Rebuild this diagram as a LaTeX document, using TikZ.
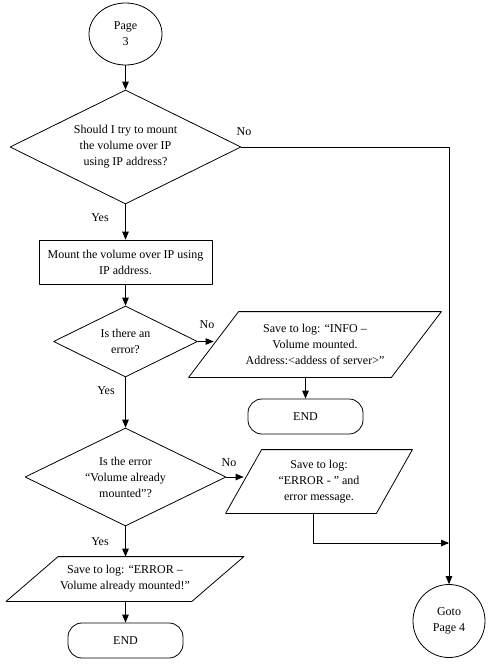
\documentclass[tikz,border=0pt]{standalone}
\usepackage{fontspec}
\setmainfont{Liberation Serif}
\usepackage{tikz}
\usetikzlibrary{arrows,shapes.geometric}

\begin{document}
\begin{tikzpicture}[line cap=round,line join=round,>=triangle 45,x=1pt,y=-1pt,line width=0.8pt,
  every node/.style={font=\fontsize{12}{16}\selectfont,align=center,inner sep=0pt},
  pageref/.style={draw,ellipse},
  decision/.style={draw,diamond,aspect=2},
  process/.style={draw,rectangle},
  logbox/.style={rectangle,append after command={\pgfextra{\draw ([xshift=#1]\tikzlastnode.north west) -- ([xshift=#1]\tikzlastnode.north east) -- ([xshift=-#1]\tikzlastnode.south east) -- ([xshift=-#1]\tikzlastnode.south west) -- cycle;}}},
  terminal/.style={draw,rectangle,rounded corners=14pt,minimum width=115pt,minimum height=35pt}]
\useasboundingbox (0,0) rectangle (491,667);
\node[pageref,minimum width=73pt,minimum height=62pt] (p3) at (125.5,34) {Page\\3};
\node[decision,minimum width=231pt,minimum height=114pt] (q1) at (125.5,147) {Should I try to mount\\the volume over IP\\using IP address?};
\node[process,minimum width=173pt,minimum height=44pt] (mount) at (125.5,262) {Mount the volume over IP using\\IP address.};
\node[decision,minimum width=144pt,minimum height=71pt] (q2) at (125.5,341.5) {Is there an\\error?};
\node[logbox=25pt,minimum width=202pt,minimum height=65pt] (info) at (315,344.5) {Save to log: “INFO –\\Volume mounted.\\Address:<addess of server>”};
\node[terminal] (end1) at (305.5,416.5) {END};
\node[decision,minimum width=201pt,minimum height=98pt] (q3) at (125.5,477) {Is the error\\“Volume already\\mounted”?};
\node[logbox=18pt,minimum width=150pt,minimum height=63pt] (errlog) at (319,481.5) {Save to log:\\“ERROR - ” and\\error message.};
\node[logbox=26pt,minimum width=185pt,minimum height=44pt] (mounted) at (125,579) {Save to log: “ERROR –\\Volume already mounted!”};
\node[terminal] (end2) at (125.5,640.5) {END};
\node[pageref,minimum width=72pt,minimum height=73pt] (p4) at (449,621) {Goto\\Page 4};
\node (yes1) at (100,218) {Yes};
\node (no1) at (244,132) {No};
\node (yes2) at (106,391) {Yes};
\node (no2) at (207,325) {No};
\node (yes3) at (100,542) {Yes};
\node (no3) at (229,463) {No};
\coordinate (merge) at (p4.north |- 0,543);
\draw[->] (p3) -- (q1);
\draw[->] (q1) -- (mount);
\draw[->] (q1.east) -| (p4.north);
\draw[->] (mount) -- (q2);
\draw[->] (q2.east) -- (info.west |- q2.east);
\draw[->] (end1.north |- info.south) -- (end1.north);
\draw[->] (q2) -- (q3);
\draw[->] (q3.east) -- (errlog.west |- q3.east);
\draw[->] ([xshift=-6pt]errlog.south) |- (merge);
\draw[->] (q3) -- (mounted.north -| q3);
\draw[->] (mounted.south -| end2) -- (end2);
\end{tikzpicture}
\end{document}
